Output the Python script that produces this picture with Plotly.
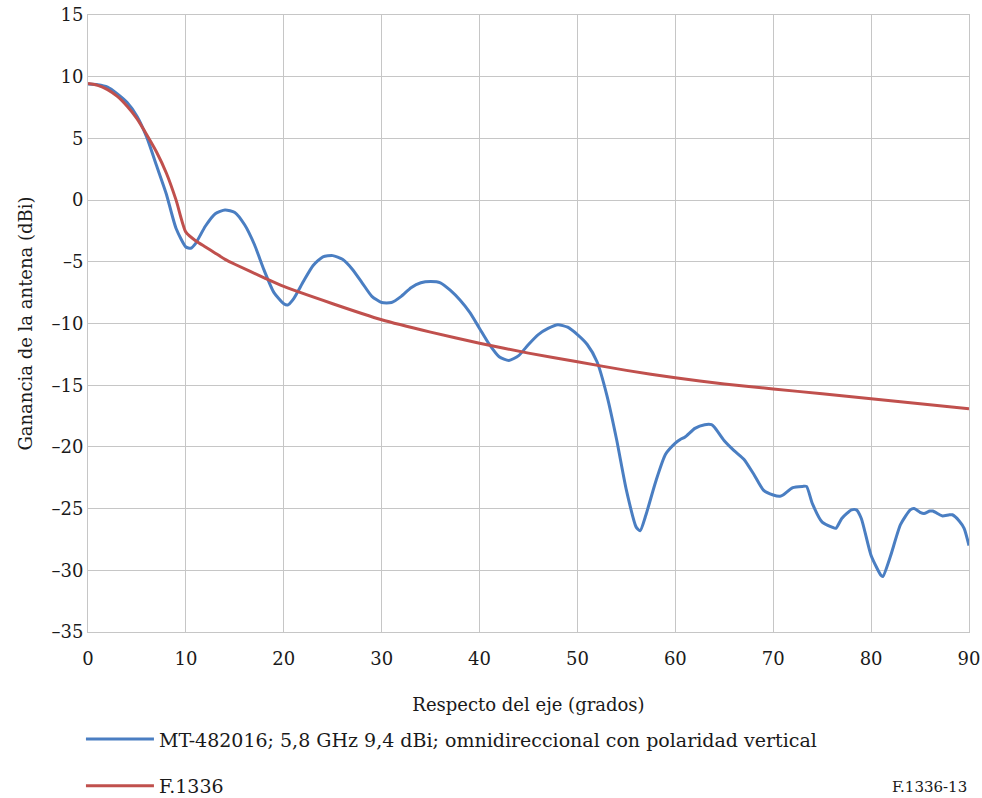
import plotly.graph_objects as go

# Blue measured pattern (angle deg, gain dBi)
mt_angle = [0, 1, 2, 3, 4, 5, 6, 7, 8, 9, 10, 10.5, 11, 12, 13, 14, 15, 16, 17, 18, 19, 20, 20.4, 21, 22, 23, 24, 25, 26, 27, 28, 29, 30, 31, 32, 33, 34, 35, 36, 37, 38, 39, 40, 41, 42, 43, 44, 45, 46, 47, 48, 49, 50, 51, 52, 53, 54, 55, 56, 56.4, 57, 58, 59, 60, 60.5, 61, 62, 63, 63.7, 64, 65, 66, 67, 68, 69, 70, 70.7, 71, 72, 73, 73.4, 74, 75, 76, 76.4, 77, 78, 78.5, 79, 80, 81, 81.2, 82, 83, 84, 84.4, 85, 85.4, 86, 86.3, 87, 87.3, 88, 88.3, 89, 89.5, 90]
mt_gain = [9.4, 9.35, 9.15, 8.6, 7.9, 6.8, 5.1, 2.8, 0.5, -2.3, -3.8, -3.9, -3.5, -2.1, -1.1, -0.8, -1.0, -2.0, -3.6, -5.7, -7.5, -8.4, -8.5, -8.0, -6.6, -5.3, -4.6, -4.5, -4.8, -5.6, -6.7, -7.8, -8.3, -8.3, -7.8, -7.1, -6.7, -6.6, -6.7, -7.3, -8.1, -9.1, -10.4, -11.7, -12.7, -13.0, -12.6, -11.7, -10.9, -10.4, -10.1, -10.3, -10.9, -11.7, -13.1, -15.8, -19.4, -23.5, -26.5, -26.8, -25.5, -22.8, -20.6, -19.7, -19.4, -19.2, -18.5, -18.2, -18.2, -18.4, -19.5, -20.3, -21.0, -22.2, -23.5, -23.9, -24.0, -23.9, -23.3, -23.2, -23.2, -24.6, -26.1, -26.5, -26.6, -25.8, -25.1, -25.1, -25.8, -28.8, -30.4, -30.5, -28.8, -26.3, -25.1, -25.0, -25.3, -25.4, -25.2, -25.2, -25.5, -25.6, -25.5, -25.5, -26.0, -26.6, -28.0]

# Red F.1336 reference pattern
f_angle = [0, 1, 2, 3, 4, 5, 6, 7, 8, 9, 10, 11, 12, 13, 14, 15, 18, 20, 25, 30, 35, 40, 45, 50, 55, 60, 65, 70, 75, 80, 85, 90]
f_gain = [9.45, 9.3, 8.95, 8.4, 7.6, 6.6, 5.3, 3.9, 2.2, 0.0, -2.6, -3.3, -3.8, -4.3, -4.8, -5.2, -6.3, -7.0, -8.4, -9.7, -10.7, -11.6, -12.4, -13.1, -13.8, -14.4, -14.9, -15.3, -15.7, -16.1, -16.5, -16.9]

x_ticks = [0, 10, 20, 30, 40, 50, 60, 70, 80, 90]
y_ticks = [15, 10, 5, 0, -5, -10, -15, -20, -25, -30, -35]

FONT = "DejaVu Serif"
GRID = "#c6c6c6"

fig = go.Figure()
fig.add_trace(go.Scatter(x=mt_angle, y=mt_gain, mode="lines", line=dict(color="#4a7ec2", width=3, shape="spline", smoothing=0.6),
                         name="MT-482016; 5,8 GHz 9,4 dBi; omnidireccional con polaridad vertical", legendgroup="a"))
fig.add_trace(go.Scatter(x=f_angle, y=f_gain, mode="lines", line=dict(color="#c0504d", width=3, shape="spline", smoothing=0.6),
                         name="F.1336", legendgroup="b"))

fig.update_layout(
    width=982, height=798,
    margin=dict(l=88, r=13, t=15, b=166, autoexpand=False),
    paper_bgcolor="white", plot_bgcolor="white",
    font=dict(family=FONT, size=18, color="#1a1a1a"),
    showlegend=True,
    legend=dict(x=-0.008, xanchor="left", y=-0.143, yanchor="top", orientation="v",
                tracegroupgap=19, font=dict(family=FONT, size=19), bgcolor="rgba(0,0,0,0)",
                itemwidth=68),
    xaxis=dict(range=[0, 90], tickvals=x_ticks, ticktext=[str(v) for v in x_ticks],
               showgrid=True, gridcolor=GRID, gridwidth=1, zeroline=False,
               showline=True, linecolor=GRID, linewidth=1, mirror=True, ticks="",
               tickfont=dict(family=FONT, size=18), ticklabelstandoff=10,
               title=dict(text="Respecto del eje (grados)", font=dict(family=FONT, size=18), standoff=30)),
    yaxis=dict(range=[-35, 15], tickvals=y_ticks, ticktext=[str(v).replace("-", "\u2013") for v in y_ticks],
               showgrid=True, gridcolor=GRID, gridwidth=1, zeroline=False,
               showline=True, linecolor=GRID, linewidth=1, mirror=True, ticks="",
               tickfont=dict(family=FONT, size=18),
               title=dict(text="Ganancia de la antena (dBi)", font=dict(family=FONT, size=18), standoff=14)),
)

fig.add_annotation(text="F.1336-13", xref="paper", yref="paper", x=1.0, y=-0.252, xanchor="right", yanchor="middle",
                   showarrow=False, font=dict(family=FONT, size=15, color="#1a1a1a"))

fig.write_html("out.html")
